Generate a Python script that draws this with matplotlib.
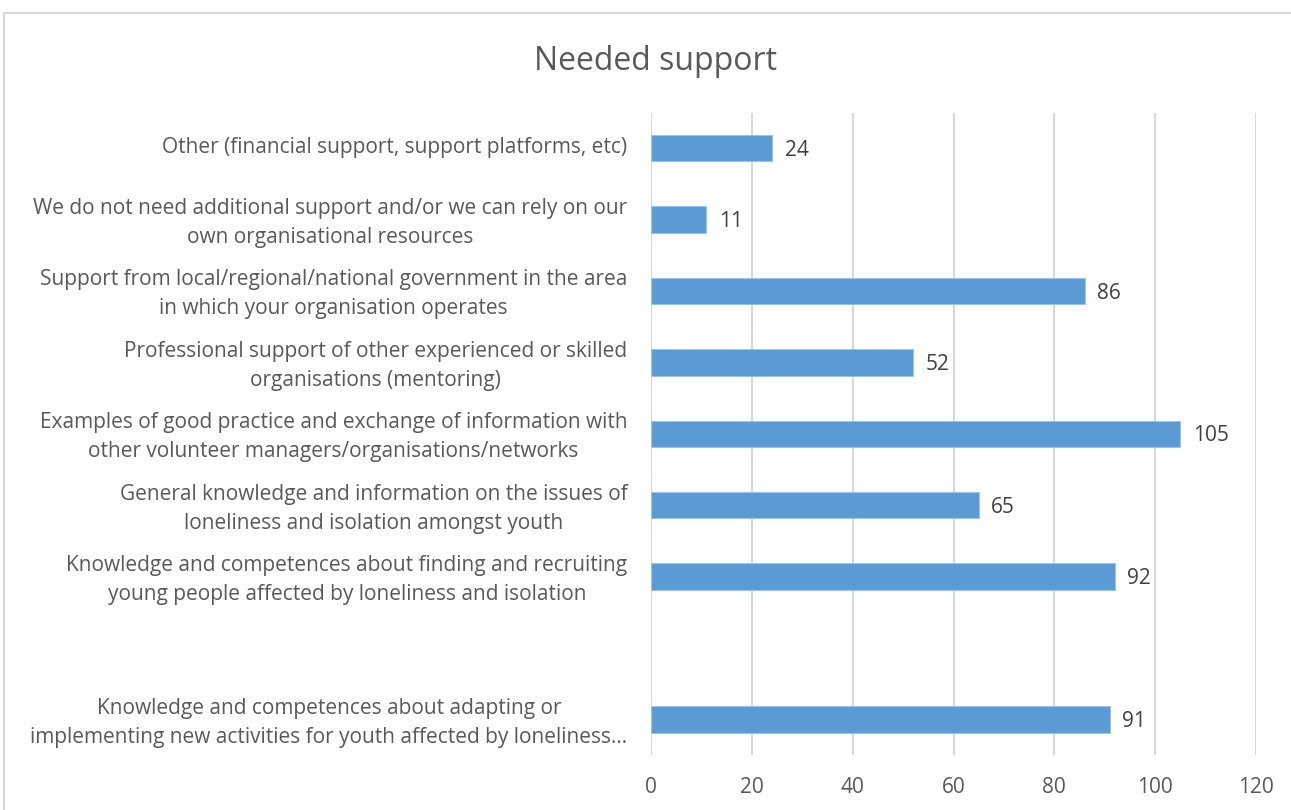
import numpy as np
import matplotlib.pyplot as plt
import matplotlib.transforms as mtransforms
from matplotlib.patches import Rectangle

plt.rcParams['font.family'] = ['Open Sans', 'DejaVu Sans']

# categories from top to bottom; the blank one is an empty slot in the sheet
categories = [
    "Other (financial support, support platforms, etc)",
    "We do not need additional support and/or we can rely on our\nown organisational resources",
    "Support from local/regional/national government in the area\nin which your organisation operates",
    "Professional support of other experienced or skilled\norganisations (mentoring)",
    "Examples of good practice and exchange of information with\nother volunteer managers/organisations/networks",
    "General knowledge and information on the issues of\nloneliness and isolation amongst youth",
    "Knowledge and competences about finding and recruiting\nyoung people affected by loneliness and isolation",
    "",
    "Knowledge and competences about adapting or\nimplementing new activities for youth affected by loneliness\u2026",
]
counts = [24, 11, 86, 52, 105, 65, 92, np.nan, 91]
x_ticks = [0, 20, 40, 60, 80, 100, 120]

text_col = '#595959'
bar_col = '#5B9BD5'
grid_col = '#D9D9D9'

fig = plt.figure(figsize=(12.91, 8.10), dpi=100)
ax = fig.add_axes([651 / 1291, 1 - 755 / 810, (1256 - 651) / 1291, (755 - 112.5) / 810])

# chart frame
fig.patches.append(Rectangle((4 / 1291, -0.5), 2, 1.5 - 13 / 810,
                             transform=fig.transFigure, fill=False,
                             edgecolor=grid_col, linewidth=1.5))

y = np.arange(len(categories))
vals = np.array(counts, dtype=float)
has = ~np.isnan(vals)
ax.barh(y[has], vals[has], height=0.37, color=bar_col, edgecolor='#9DC3E6',
        linewidth=0.8, zorder=3)

for yi, v in zip(y[has], vals[has]):
    ax.text(v + 2.5, yi + 0.03, f"{int(v)}", va='center', ha='left',
            fontsize=15, color='#404040')

ax.set_xlim(0, 120)
ax.set_ylim(len(categories) - 0.5, -0.5)
ax.set_xticks(x_ticks)
ax.set_xticklabels([str(t) for t in x_ticks], fontsize=15, color=text_col)
ax.set_yticks(y)
ax.set_yticklabels(categories, fontsize=15, color=text_col, ha='right',
                   multialignment='center', linespacing=1.5)
ax.tick_params(axis='both', length=0)
ax.tick_params(axis='y', pad=17)
ax.tick_params(axis='x', pad=16)

# nudge category labels up a little
shift = mtransforms.ScaledTranslation(0, 3 / 100, fig.dpi_scale_trans)
for lbl in ax.get_yticklabels():
    lbl.set_transform(lbl.get_transform() + shift)

ax.grid(axis='x', color=grid_col, linewidth=1.5, zorder=0)
for s in ax.spines.values():
    s.set_visible(False)

fig.text(656 / 1291, 1 - 61 / 810, "Needed support", ha='center', va='center',
         fontsize=23, color=text_col)

fig.savefig('out.png', dpi=100)
